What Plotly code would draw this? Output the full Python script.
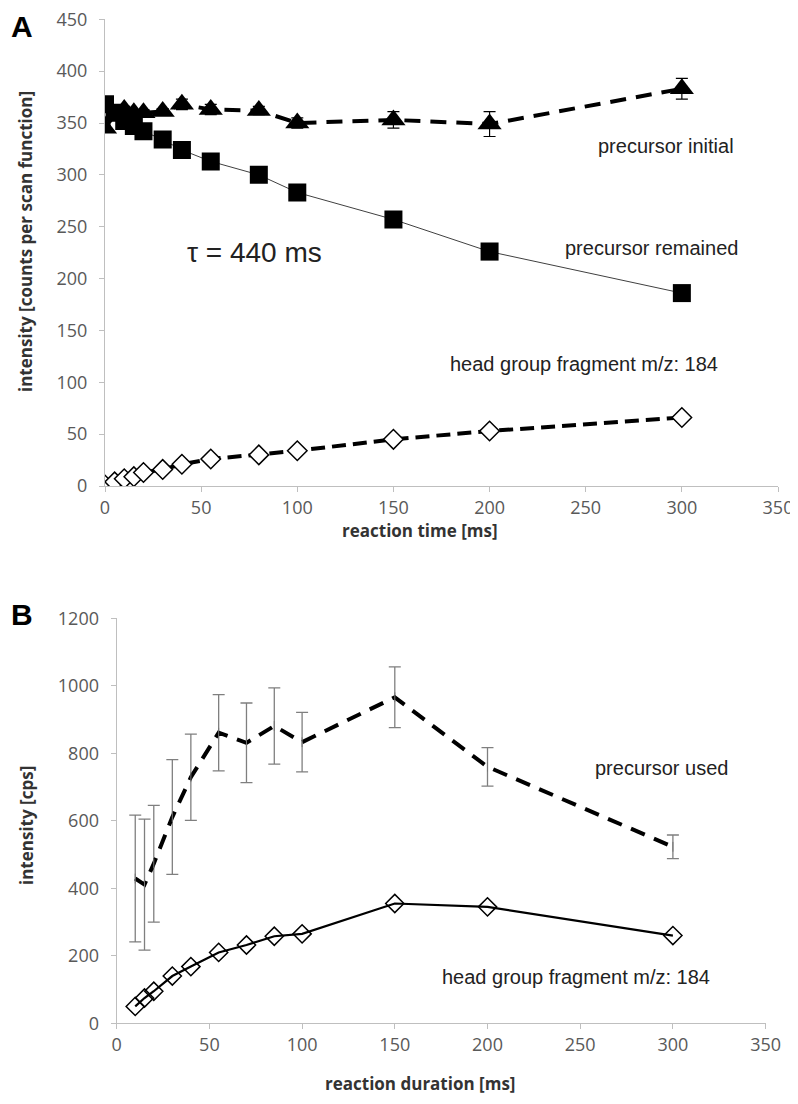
import plotly.graph_objects as go

# panel A: reaction time [ms]
time_a = [0, 5, 10, 15, 20, 30, 40, 55, 80, 100, 150, 200, 300]
precursor_initial = [345, 358, 363, 360, 360, 361, 368, 363, 362, 350, 353, 349, 383]
precursor_initial_err = [3, 3, 3, 3, 3, 3, 5, 5, 4, 5, 8, 12, 10]
precursor_remained = [368, 360, 352, 347, 342, 334, 324, 313, 300, 283, 257, 226, 186]
fragment_a = [1, 4, 7, 9, 13, 16, 21, 26, 30, 34, 45, 53, 66]

# panel B: reaction duration [ms]
time_b = [10, 15, 20, 30, 40, 55, 70, 85, 100, 150, 200, 300]
precursor_used = [429, 411, 473, 611, 729, 861, 831, 881, 833, 966, 760, 523]
precursor_used_err = [188, 194, 173, 170, 128, 113, 118, 113, 88, 90, 57, 35]
fragment_b = [50, 75, 95, 140, 168, 210, 232, 258, 265, 355, 345, 260]

# the page body adds an 8px margin, so the figure is drawn 8px smaller
OFF = 8
W, H = 798 - OFF, 1104 - OFF


def px(x):
    return (x - OFF) / W


def py(y):
    return 1 - (y - OFF) / H


AXIS_GREY = "#bfbfbf"
TICK_GREY = "#595959"
TICK_FONT = dict(family="Open Sans, Noto Sans, sans-serif", size=18, color=TICK_GREY)
LABEL_FONT = dict(family="Liberation Sans, Arial, sans-serif", size=20, color="#222222")
TITLE_FONT = dict(family="Open Sans, Noto Sans, sans-serif", size=17, color="#333333")
LETTER_FONT = dict(family="Liberation Sans, Arial, sans-serif", size=30, color="black")

fig = go.Figure()

# ---- panel A
fig.add_trace(go.Scatter(
    x=time_a, y=precursor_initial, mode="lines+markers",
    line=dict(color="black", width=4, dash="16px,10px"),
    marker=dict(symbol="triangle-up", size=21, color="black"),
    error_y=dict(type="data", array=precursor_initial_err, color="black", thickness=1.2, width=6),
    xaxis="x", yaxis="y", showlegend=False))
fig.add_trace(go.Scatter(
    x=time_a, y=precursor_remained, mode="lines+markers",
    line=dict(color="#404040", width=1),
    marker=dict(symbol="square", size=18, color="black"),
    xaxis="x", yaxis="y", showlegend=False))
fig.add_trace(go.Scatter(
    x=time_a, y=fragment_a, mode="lines+markers",
    line=dict(color="black", width=4, dash="14px,7px"),
    marker=dict(symbol="diamond", size=15, color="white", line=dict(color="black", width=1.5)),
    xaxis="x", yaxis="y", showlegend=False))

# ---- panel B
fig.add_trace(go.Scatter(
    x=time_b, y=precursor_used, mode="lines+markers",
    line=dict(color="black", width=4, dash="15px,10px"),
    marker=dict(symbol="line-ns", size=7, color="#777777", line=dict(color="#777777", width=1)),
    error_y=dict(type="data", array=precursor_used_err, color="#7f7f7f", thickness=1.3, width=6),
    xaxis="x2", yaxis="y2", showlegend=False))
fig.add_trace(go.Scatter(
    x=time_b, y=fragment_b, mode="lines+markers",
    line=dict(color="black", width=2.2),
    marker=dict(symbol="diamond", size=14, color="rgba(255,255,255,0)", line=dict(color="black", width=1.5)),
    xaxis="x2", yaxis="y2", showlegend=False))

axis_style = dict(showgrid=False, zeroline=False, showline=True, linecolor=AXIS_GREY, linewidth=1.2,
                  ticks="outside", tickcolor=AXIS_GREY, ticklen=5, tickwidth=1.2, tickfont=TICK_FONT,
                  automargin=False, ticklabeloverflow="allow")

fig.update_layout(
    width=W, height=H, margin=dict(l=0, r=0, t=0, b=0, pad=0),
    paper_bgcolor="white", plot_bgcolor="white",
    xaxis=dict(domain=[px(105), px(778)], range=[0, 350], dtick=50, anchor="y", **axis_style),
    yaxis=dict(domain=[py(486), py(19.3)], range=[0, 450], dtick=50, anchor="x",
               ticklabelstandoff=8, **axis_style),
    xaxis2=dict(domain=[px(116.7), px(765.6)], range=[0, 350], dtick=50, anchor="y2", **axis_style),
    yaxis2=dict(domain=[py(1023.3), py(618.3)], range=[0, 1200], dtick=200, anchor="x2",
                ticklabelstandoff=8, **axis_style),
)

annotations = [
    # panel A labels
    dict(x=292, y=328, xref="x", yref="y", text="precursor initial", font=LABEL_FONT),
    dict(x=284, y=229, xref="x", yref="y", text="precursor remained", font=LABEL_FONT),
    dict(x=78, y=225, xref="x", yref="y", text="τ = 440 ms",
         font=dict(family="Liberation Sans, Arial, sans-serif", size=28, color="#222222")),
    dict(x=249, y=118, xref="x", yref="y", text="head group fragment m/z: 184", font=LABEL_FONT),
    # panel B labels
    dict(x=294, y=756, xref="x2", yref="y2", text="precursor used", font=LABEL_FONT),
    dict(x=248, y=138, xref="x2", yref="y2", text="head group fragment m/z: 184", font=LABEL_FONT),
    # axis titles
    dict(x=px(26), y=py(242), xref="paper", yref="paper", text="<b>intensity [counts per scan function]</b>",
         textangle=-90, font=TITLE_FONT),
    dict(x=px(420), y=py(530), xref="paper", yref="paper", text="<b>reaction time [ms]</b>", font=TITLE_FONT),
    dict(x=px(26), y=py(826), xref="paper", yref="paper", text="<b>intensity [cps]</b>",
         textangle=-90, font=TITLE_FONT),
    dict(x=px(420), y=py(1083), xref="paper", yref="paper", text="<b>reaction duration [ms]</b>", font=TITLE_FONT),
    # panel letters
    dict(x=px(9), y=py(8), xref="paper", yref="paper", text="<b>A</b>",
         xanchor="left", yanchor="top", font=LETTER_FONT),
    dict(x=px(9), y=py(596), xref="paper", yref="paper", text="<b>B</b>",
         xanchor="left", yanchor="top", font=LETTER_FONT),
]
for a in annotations:
    a.setdefault("showarrow", False)
    a.setdefault("xanchor", "center")
    a.setdefault("yanchor", "middle")
fig.update_layout(annotations=annotations)

fig.write_html("out.html")
